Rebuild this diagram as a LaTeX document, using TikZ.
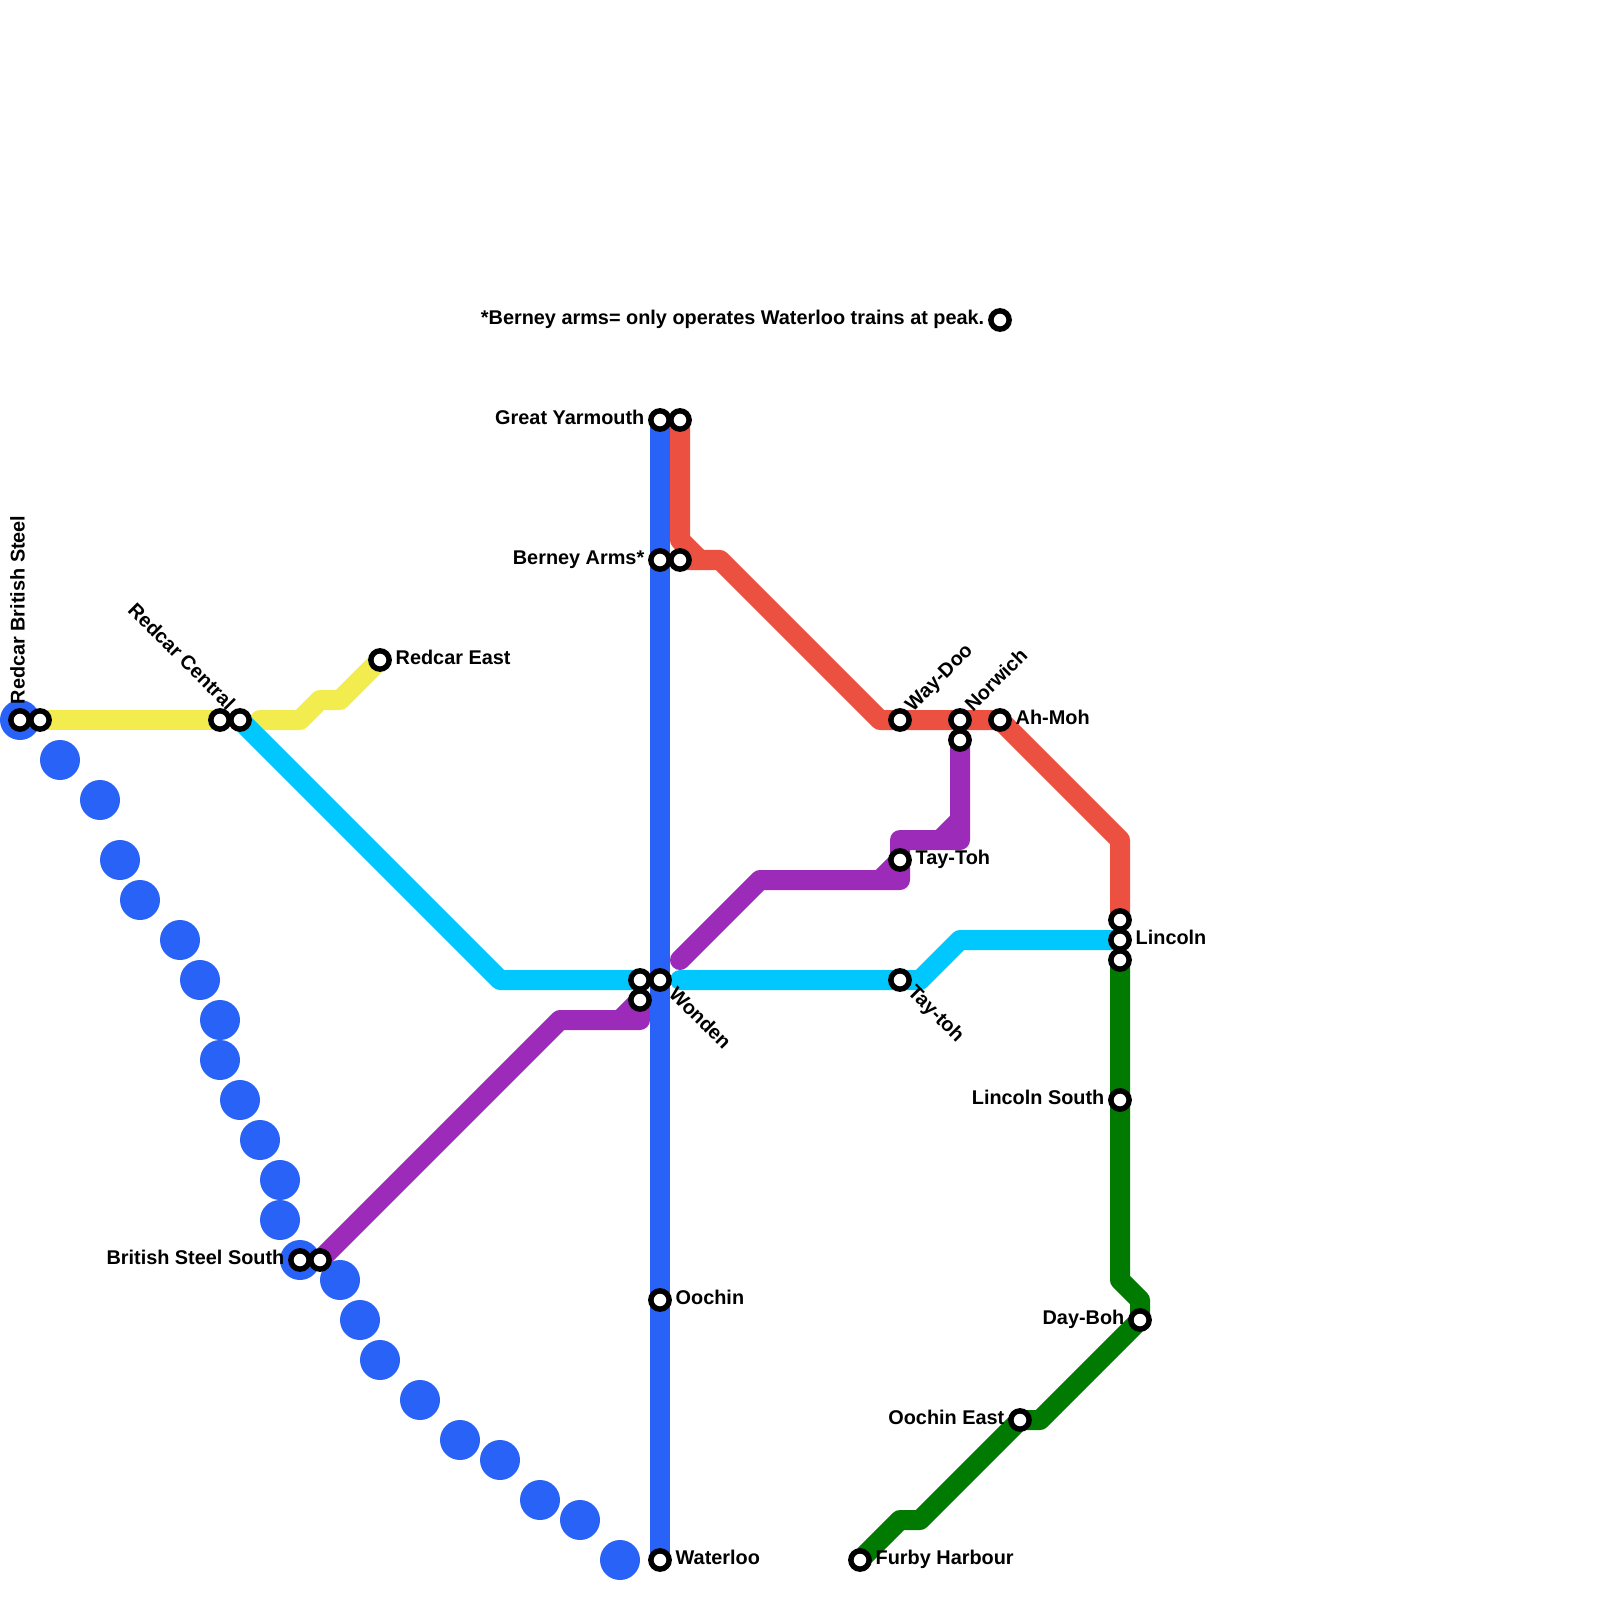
\documentclass[tikz,border=0pt]{standalone}
\usepackage{fontspec}
\setmainfont{Liberation Sans}
\usepackage{tikz}
\usetikzlibrary{backgrounds}
\definecolor{lineblue}{HTML}{2962F6}
\definecolor{linered}{HTML}{EC5040}
\definecolor{linecyan}{HTML}{00C8FF}
\definecolor{lineyellow}{HTML}{F3EC4F}
\definecolor{linepurple}{HTML}{9C2BB9}
\definecolor{linegreen}{HTML}{007A00}
\tikzset{
	station/.style={circle,draw=black,fill=white,line width=1.55pt,minimum size=5.2pt,inner sep=0pt},
	stationname/.style={font=\fontsize{5.65pt}{6pt}\selectfont\bfseries,inner sep=0pt,text height=3.75pt,text depth=0pt},
	railway/.style={line width=5.69pt,line join=round},
	bluedot/.style={fill=lineblue}
}
\begin{document}
\begin{tikzpicture}[x=0.01cm,y=-0.01cm]
	\useasboundingbox (0,0) rectangle (1600,1600);
	% stations
	\node[station] (britishsteel) at (20,720) {};
	\node[station] (yellowwest) at (40,720) {};
	\node[station] (redcarcentral) at (220,720) {};
	\node[station] (cyanwest) at (240,720) {};
	\node[station] (redcareast) at (380,660) {};
	\node[station] (steelsouth) at (300,1260) {};
	\node[station] (purplewest) at (320,1260) {};
	\node[station] (yarmouth) at (660,420) {};
	\node[station] (redtop) at (680,420) {};
	\node[station] (berney) at (660,560) {};
	\node[station] (redberney) at (680,560) {};
	\node[station] (wondencyan) at (640,980) {};
	\node[station] (wondenpurple) at (640,1000) {};
	\node[station] (wonden) at (660,980) {};
	\node[station] (oochin) at (660,1300) {};
	\node[station] (waterloo) at (660,1560) {};
	\node[station] (waydoo) at (900,720) {};
	\node[station] (norwich) at (960,720) {};
	\node[station] (norwichpurple) at (960,740) {};
	\node[station] (ahmoh) at (1000,720) {};
	\node[station] (peak) at (1000,320) {};
	\node[station] (taytoh) at (900,860) {};
	\node[station] (taytohcyan) at (900,980) {};
	\node[station] (lincolnred) at (1120,920) {};
	\node[station] (lincoln) at (1120,940) {};
	\node[station] (lincolngreen) at (1120,960) {};
	\node[station] (lincolnsouth) at (1120,1100) {};
	\node[station] (dayboh) at (1140,1320) {};
	\node[station] (oochineast) at (1020,1420) {};
	\node[station] (furby) at (860,1560) {};
	% bends
	\coordinate (redsplit) at (680,540);
	\coordinate (redstep) at (700,560);
	\coordinate (redbend) at (720,560);
	\coordinate (redflat) at (880,720);
	\coordinate (reddown) at (1120,840);
	\coordinate (yellowend) at (260,720);
	\coordinate (yellowa) at (300,720);
	\coordinate (yellowb) at (320,700);
	\coordinate (yellowc) at (340,700);
	\coordinate (cyanbend) at (500,980);
	\coordinate (cyanstart) at (680,980);
	\coordinate (cyanrise) at (920,980);
	\coordinate (cyanflat) at (960,940);
	\coordinate (purplea) at (560,1020);
	\coordinate (purpleb) at (620,1020);
	\coordinate (purplec) at (640,1020);
	\coordinate (purpled) at (680,960);
	\coordinate (purplee) at (760,880);
	\coordinate (purplef) at (880,880);
	\coordinate (purpleg) at (900,880);
	\coordinate (purpleh) at (900,840);
	\coordinate (purplei) at (940,840);
	\coordinate (purplej) at (960,840);
	\coordinate (purplek) at (960,820);
	\coordinate (greena) at (1120,1280);
	\coordinate (greenb) at (1140,1300);
	\coordinate (greenc) at (1040,1420);
	\coordinate (greend) at (920,1520);
	\coordinate (greene) at (900,1520);
	\begin{scope}[on background layer]
		% the lines
		\draw[railway,linered] (redtop.center) -- (redsplit) -- (redstep);
		\draw[railway,linered] (redberney.center) -- (redbend) -- (redflat) -- (waydoo.center) -- (norwich.center) -- (ahmoh.center) -- (reddown) -- (lincolnred.center);
		\draw[railway,lineyellow,line cap=round] (yellowwest.center) -- (redcarcentral.center);
		\draw[railway,lineyellow,line cap=round] (yellowend) -- (yellowa) -- (yellowb) -- (yellowc) -- (redcareast.center);
		\draw[railway,linecyan] (cyanwest.center) -- (cyanbend) -- (wondencyan.center);
		\draw[railway,linecyan,line cap=round] (cyanstart) -- (taytohcyan.center) -- (cyanrise) -- (cyanflat) -- (lincoln.center);
		\draw[railway,linepurple] (purplewest.center) -- (purplea) -- (purplec) -- (wondenpurple.center);
		\draw[railway,linepurple] (purpleb) -- (wondenpurple.center);
		\draw[railway,linepurple,line cap=round] (purpled) -- (purplee) -- (purpleg) -- (purpleh) -- (purplej) -- (norwichpurple.center);
		\draw[railway,linepurple] (purplef) -- (taytoh.center);
		\draw[railway,linepurple] (purplei) -- (purplek);
		\draw[railway,linegreen] (lincolngreen.center) -- (lincolnsouth.center) -- (greena) -- (greenb) -- (dayboh.center) -- (greenc) -- (oochineast.center) -- (greend) -- (greene) -- (furby.center);
		\draw[railway,lineblue] (yarmouth.center) -- (berney.center) -- (wonden.center) -- (oochin.center) -- (waterloo.center);
		% the dots
		\fill[bluedot] (20,720) circle (20);
		\fill[bluedot] (60,760) circle (20);
		\fill[bluedot] (100,800) circle (20);
		\fill[bluedot] (120,860) circle (20);
		\fill[bluedot] (140,900) circle (20);
		\fill[bluedot] (180,940) circle (20);
		\fill[bluedot] (200,980) circle (20);
		\fill[bluedot] (220,1020) circle (20);
		\fill[bluedot] (220,1060) circle (20);
		\fill[bluedot] (240,1100) circle (20);
		\fill[bluedot] (260,1140) circle (20);
		\fill[bluedot] (280,1180) circle (20);
		\fill[bluedot] (280,1220) circle (20);
		\fill[bluedot] (300,1260) circle (20);
		\fill[bluedot] (340,1280) circle (20);
		\fill[bluedot] (360,1320) circle (20);
		\fill[bluedot] (380,1360) circle (20);
		\fill[bluedot] (420,1400) circle (20);
		\fill[bluedot] (460,1440) circle (20);
		\fill[bluedot] (500,1460) circle (20);
		\fill[bluedot] (540,1500) circle (20);
		\fill[bluedot] (580,1520) circle (20);
		\fill[bluedot] (620,1560) circle (20);
	\end{scope}
	% names
	\node[stationname,rotate=90,anchor=west] (namebritishsteel) at (18,705) {Redcar British Steel};
	\node[stationname,rotate=-45,anchor=east] (nameredcarcentral) at (232,707) {Redcar Central};
	\node[stationname,anchor=west] (nameredcareast) at (395,658) {Redcar East};
	\node[stationname,anchor=east] (namesteelsouth) at (285,1258) {British Steel South};
	\node[stationname,anchor=east] (namepeak) at (985,318) {*Berney arms= only operates Waterloo trains at peak.};
	\node[stationname,anchor=east] (nameyarmouth) at (645,418) {Great Yarmouth};
	\node[stationname,anchor=east] (nameberney) at (645,558) {Berney Arms*};
	\node[stationname,rotate=-45,anchor=west] (namewonden) at (672,990) {Wonden};
	\node[stationname,anchor=west] (nameoochin) at (675,1298) {Oochin};
	\node[stationname,anchor=west] (namewaterloo) at (675,1558) {Waterloo};
	\node[stationname,rotate=45,anchor=west] (namewaydoo) at (908,708) {Way-Doo};
	\node[stationname,rotate=45,anchor=west] (namenorwich) at (968,708) {Norwich};
	\node[stationname,anchor=west] (nameahmoh) at (1015,718) {Ah-Moh};
	\node[stationname,anchor=west] (nametaytoh) at (915,858) {Tay-Toh};
	\node[stationname,rotate=-45,anchor=west] (nametaytohcyan) at (911,988) {Tay-toh};
	\node[stationname,anchor=west] (namelincoln) at (1135,938) {Lincoln};
	\node[stationname,anchor=east] (namelincolnsouth) at (1105,1098) {Lincoln South};
	\node[stationname,anchor=east] (namedayboh) at (1125,1318) {Day-Boh};
	\node[stationname,anchor=east] (nameoochineast) at (1005,1418) {Oochin East};
	\node[stationname,anchor=west] (namefurby) at (875,1558) {Furby Harbour};
\end{tikzpicture}
\end{document}
